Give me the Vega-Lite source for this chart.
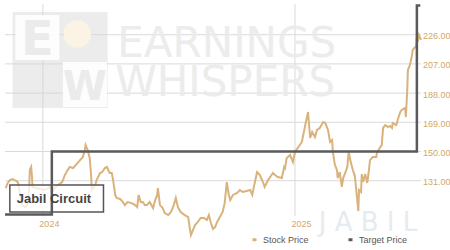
{
  "$schema": "https://vega.github.io/schema/vega-lite/v6.json",
  "width": 416,
  "height": 212,
  "autosize": {"type": "none"},
  "padding": {"left": 5, "top": 4, "right": 29, "bottom": 34},
  "background": "white",
  "config": {
    "view": {"stroke": null},
    "font": "Liberation Sans",
    "axis": {"domain": false, "ticks": false, "title": null, "grid": false, "labelColor": "#d3a866", "labelFontSize": 9, "labelFont": "Liberation Sans"},
    "axisX": {"labelOffset": 6, "labelPadding": 3, "labelFlush": false},
    "axisY": {"labelPadding": 1.5, "labelOffset": 1}
  },
  "datasets": {
    "stock": [
      {"date": "2023-11-08", "price": 126.2}, {"date": "2023-11-11", "price": 129.5}, {"date": "2023-11-14", "price": 131.4},
      {"date": "2023-11-18", "price": 132.1}, {"date": "2023-11-21", "price": 131.4}, {"date": "2023-11-24", "price": 130.8},
      {"date": "2023-11-26", "price": 129.5}, {"date": "2023-11-29", "price": 121.7}, {"date": "2023-12-02", "price": 115.1},
      {"date": "2023-12-06", "price": 113.8}, {"date": "2023-12-09", "price": 115.1}, {"date": "2023-12-12", "price": 124.9},
      {"date": "2023-12-13", "price": 137.9}, {"date": "2023-12-15", "price": 139.9}, {"date": "2023-12-16", "price": 134.7},
      {"date": "2023-12-17", "price": 126.9}, {"date": "2023-12-22", "price": 126.2}, {"date": "2023-12-28", "price": 125.6},
      {"date": "2024-01-02", "price": 124.9}, {"date": "2024-01-07", "price": 125.6}, {"date": "2024-01-11", "price": 126.9},
      {"date": "2024-01-14", "price": 123.6}, {"date": "2024-01-18", "price": 126.2}, {"date": "2024-01-23", "price": 128.2},
      {"date": "2024-01-29", "price": 130.1}, {"date": "2024-02-02", "price": 134.7}, {"date": "2024-02-06", "price": 137.9},
      {"date": "2024-02-09", "price": 139.9}, {"date": "2024-02-14", "price": 139.2}, {"date": "2024-02-19", "price": 141.8},
      {"date": "2024-02-24", "price": 144.4}, {"date": "2024-02-28", "price": 146.4}, {"date": "2024-03-02", "price": 151.0},
      {"date": "2024-03-03", "price": 154.2}, {"date": "2024-03-06", "price": 151.0}, {"date": "2024-03-09", "price": 145.7},
      {"date": "2024-03-11", "price": 134.7}, {"date": "2024-03-12", "price": 124.9}, {"date": "2024-03-17", "price": 128.2},
      {"date": "2024-03-19", "price": 131.4}, {"date": "2024-03-24", "price": 136.0}, {"date": "2024-03-27", "price": 136.6},
      {"date": "2024-03-31", "price": 139.2}, {"date": "2024-04-03", "price": 139.9}, {"date": "2024-04-07", "price": 136.0},
      {"date": "2024-04-10", "price": 136.0}, {"date": "2024-04-12", "price": 131.4}, {"date": "2024-04-15", "price": 121.7},
      {"date": "2024-04-17", "price": 119.7}, {"date": "2024-04-22", "price": 119.1}, {"date": "2024-04-25", "price": 117.8},
      {"date": "2024-04-29", "price": 115.1}, {"date": "2024-05-03", "price": 117.1}, {"date": "2024-05-09", "price": 116.4},
      {"date": "2024-05-14", "price": 115.1}, {"date": "2024-05-17", "price": 113.8}, {"date": "2024-05-19", "price": 121.7},
      {"date": "2024-05-22", "price": 117.1}, {"date": "2024-05-25", "price": 117.1}, {"date": "2024-05-28", "price": 115.1},
      {"date": "2024-05-31", "price": 115.1}, {"date": "2024-06-04", "price": 117.1}, {"date": "2024-06-09", "price": 113.2},
      {"date": "2024-06-12", "price": 118.4}, {"date": "2024-06-15", "price": 121.7}, {"date": "2024-06-16", "price": 126.2},
      {"date": "2024-06-19", "price": 115.1}, {"date": "2024-06-23", "price": 113.2}, {"date": "2024-06-26", "price": 109.9},
      {"date": "2024-07-01", "price": 108.6}, {"date": "2024-07-05", "price": 110.6}, {"date": "2024-07-09", "price": 115.1},
      {"date": "2024-07-12", "price": 119.7}, {"date": "2024-07-15", "price": 113.8}, {"date": "2024-07-19", "price": 110.6},
      {"date": "2024-07-25", "price": 108.6}, {"date": "2024-07-30", "price": 107.3}, {"date": "2024-08-01", "price": 100.8},
      {"date": "2024-08-03", "price": 95.6}, {"date": "2024-08-06", "price": 98.9}, {"date": "2024-08-09", "price": 102.1},
      {"date": "2024-08-13", "price": 104.1}, {"date": "2024-08-17", "price": 106.7}, {"date": "2024-08-22", "price": 106.7},
      {"date": "2024-08-26", "price": 105.4}, {"date": "2024-08-29", "price": 108.6}, {"date": "2024-09-01", "price": 103.4},
      {"date": "2024-09-04", "price": 99.5}, {"date": "2024-09-07", "price": 100.8}, {"date": "2024-09-10", "price": 104.1},
      {"date": "2024-09-14", "price": 107.3}, {"date": "2024-09-18", "price": 110.6}, {"date": "2024-09-21", "price": 116.4},
      {"date": "2024-09-24", "price": 130.1}, {"date": "2024-09-27", "price": 121.7}, {"date": "2024-09-29", "price": 118.4},
      {"date": "2024-10-03", "price": 121.7}, {"date": "2024-10-09", "price": 123.0}, {"date": "2024-10-13", "price": 124.9},
      {"date": "2024-10-17", "price": 123.6}, {"date": "2024-10-23", "price": 124.3}, {"date": "2024-10-28", "price": 124.9},
      {"date": "2024-10-31", "price": 121.7}, {"date": "2024-11-02", "price": 126.2}, {"date": "2024-11-07", "price": 136.6},
      {"date": "2024-11-11", "price": 134.7}, {"date": "2024-11-16", "price": 129.5}, {"date": "2024-11-18", "price": 126.9},
      {"date": "2024-11-23", "price": 131.4}, {"date": "2024-11-26", "price": 133.4}, {"date": "2024-11-30", "price": 136.0},
      {"date": "2024-12-03", "price": 134.7}, {"date": "2024-12-07", "price": 133.4}, {"date": "2024-12-13", "price": 132.7},
      {"date": "2024-12-16", "price": 139.2}, {"date": "2024-12-17", "price": 137.9}, {"date": "2024-12-20", "price": 145.7},
      {"date": "2024-12-25", "price": 147.7}, {"date": "2024-12-29", "price": 143.1}, {"date": "2025-01-01", "price": 149.7},
      {"date": "2025-01-05", "price": 152.3}, {"date": "2025-01-11", "price": 156.2}, {"date": "2025-01-16", "price": 167.2},
      {"date": "2025-01-20", "price": 175.7}, {"date": "2025-01-23", "price": 158.8}, {"date": "2025-01-26", "price": 162.7},
      {"date": "2025-01-30", "price": 159.4}, {"date": "2025-02-02", "price": 164.0}, {"date": "2025-02-06", "price": 165.3},
      {"date": "2025-02-11", "price": 169.2}, {"date": "2025-02-14", "price": 168.5}, {"date": "2025-02-18", "price": 164.0},
      {"date": "2025-02-21", "price": 156.2}, {"date": "2025-02-24", "price": 157.5}, {"date": "2025-02-25", "price": 149.7},
      {"date": "2025-02-28", "price": 141.2}, {"date": "2025-03-03", "price": 137.9}, {"date": "2025-03-04", "price": 132.7},
      {"date": "2025-03-07", "price": 136.6}, {"date": "2025-03-10", "price": 126.9}, {"date": "2025-03-12", "price": 132.7},
      {"date": "2025-03-15", "price": 136.0}, {"date": "2025-03-18", "price": 139.9}, {"date": "2025-03-20", "price": 149.7},
      {"date": "2025-03-23", "price": 143.1}, {"date": "2025-03-26", "price": 137.9}, {"date": "2025-03-29", "price": 134.0},
      {"date": "2025-03-31", "price": 124.9}, {"date": "2025-04-03", "price": 111.2}, {"date": "2025-04-04", "price": 124.9},
      {"date": "2025-04-07", "price": 123.6}, {"date": "2025-04-08", "price": 135.3}, {"date": "2025-04-10", "price": 130.1},
      {"date": "2025-04-13", "price": 135.3}, {"date": "2025-04-16", "price": 129.5}, {"date": "2025-04-17", "price": 132.7},
      {"date": "2025-04-20", "price": 144.4}, {"date": "2025-04-24", "price": 146.4}, {"date": "2025-04-29", "price": 146.4},
      {"date": "2025-04-30", "price": 149.0}, {"date": "2025-05-04", "price": 152.3}, {"date": "2025-05-07", "price": 154.2},
      {"date": "2025-05-09", "price": 165.3}, {"date": "2025-05-12", "price": 167.2}, {"date": "2025-05-16", "price": 165.9},
      {"date": "2025-05-19", "price": 166.6}, {"date": "2025-05-22", "price": 165.3}, {"date": "2025-05-23", "price": 168.5},
      {"date": "2025-05-28", "price": 167.2}, {"date": "2025-05-29", "price": 168.5}, {"date": "2025-05-31", "price": 171.8},
      {"date": "2025-06-03", "price": 175.7}, {"date": "2025-06-05", "price": 177.0}, {"date": "2025-06-10", "price": 178.3},
      {"date": "2025-06-11", "price": 172.4}, {"date": "2025-06-13", "price": 190.0}, {"date": "2025-06-14", "price": 203.0},
      {"date": "2025-06-17", "price": 206.3}, {"date": "2025-06-20", "price": 212.8}, {"date": "2025-06-21", "price": 216.1},
      {"date": "2025-06-26", "price": 218.7}, {"date": "2025-06-27", "price": 225.2}, {"date": "2025-06-29", "price": 223.2},
      {"date": "2025-06-30", "price": 225.8}, {"date": "2025-07-03", "price": 222.6}
    ],
    "target": [
      {"date": "2023-11-07", "price": 109},
      {"date": "2024-01-14", "price": 150},
      {"date": "2025-06-27", "price": 245},
      {"date": "2025-07-02", "price": 245}
    ],
    "yticks": [{"price": 131}, {"price": 150}, {"price": 169}, {"price": 188}, {"price": 207}, {"price": 226}],
    "xticks": [{"date": "2024-01-01T00:00:00"}, {"date": "2025-01-01T00:00:00"}]
  },
  "layer": [
    {
      "data": {"name": "yticks"},
      "mark": {"type": "rule", "color": "#d9d9d9", "strokeWidth": 1},
      "encoding": {
        "y": {"field": "price", "type": "quantitative", "title": null}
      }
    },
    {
      "data": {"name": "xticks"},
      "mark": {"type": "rule", "color": "#d9d9d9", "strokeWidth": 1},
      "encoding": {
        "x": {"field": "date", "type": "temporal", "title": null}
      }
    },
    {
      "data": {"values": [{}]},
      "mark": {"type": "rect", "fill": "#d4d4d4", "fillOpacity": 0.45},
      "encoding": {
        "x": {"datum": {"year": 2023, "month": 11, "date": 18}, "type": "temporal", "title": null},
        "x2": {"datum": {"year": 2024, "month": 4, "date": 4}},
        "y": {"datum": 240.8, "type": "quantitative", "title": null},
        "y2": {"datum": 178.3}
      }
    },
    {
      "data": {"values": [{}]},
      "mark": {"type": "rect", "fill": "#ffffff", "fillOpacity": 0.9},
      "encoding": {
        "x": {"datum": {"year": 2023, "month": 11, "date": 22}, "type": "temporal", "title": null},
        "x2": {"datum": {"year": 2024, "month": 1, "date": 25}},
        "y": {"datum": 238.8, "type": "quantitative", "title": null},
        "y2": {"datum": 209.5}
      }
    },
    {
      "data": {"values": [{}]},
      "mark": {"type": "rect", "fill": "#ffffff", "fillOpacity": 0.9},
      "encoding": {
        "x": {"datum": {"year": 2024, "month": 1, "date": 30}, "type": "temporal", "title": null},
        "x2": {"datum": {"year": 2024, "month": 4, "date": 3}},
        "y": {"datum": 208.2, "type": "quantitative", "title": null},
        "y2": {"datum": 178.9}
      }
    },
    {
      "data": {"values": [{}]},
      "mark": {"type": "point", "shape": "circle", "filled": true, "fill": "#fbf4e4", "opacity": 1, "size": 750},
      "encoding": {
        "x": {"datum": {"year": 2024, "month": 2, "date": 20}, "type": "temporal", "title": null},
        "y": {"datum": 226.5, "type": "quantitative", "title": null}
      }
    },
    {
      "data": {"values": [{}]},
      "mark": {"type": "text", "text": "E", "font": "DejaVu Sans", "fontWeight": "bold", "fontSize": 48, "color": "#ebebeb", "align": "center", "baseline": "alphabetic"},
      "encoding": {
        "x": {"datum": {"year": 2023, "month": 12, "date": 24}, "type": "temporal", "title": null},
        "y": {"datum": 212.8, "type": "quantitative", "title": null}
      }
    },
    {
      "data": {"values": [{}]},
      "mark": {"type": "text", "text": "W", "font": "DejaVu Sans", "fontWeight": "bold", "fontSize": 40, "color": "#ebebeb", "align": "center", "baseline": "alphabetic"},
      "encoding": {
        "x": {"datum": {"year": 2024, "month": 3, "date": 2}, "type": "temporal", "title": null},
        "y": {"datum": 183.5, "type": "quantitative", "title": null}
      }
    },
    {
      "data": {"values": [{}]},
      "mark": {"type": "text", "text": "EARNINGS", "font": "DejaVu Sans", "fontSize": 42, "color": "#ebebeb", "opacity": 0.9, "align": "left", "baseline": "alphabetic"},
      "encoding": {
        "x": {"datum": {"year": 2024, "month": 4, "date": 18}, "type": "temporal", "title": null},
        "y": {"datum": 211.5, "type": "quantitative", "title": null}
      }
    },
    {
      "data": {"values": [{}]},
      "mark": {"type": "text", "text": "WHISPERS", "font": "DejaVu Sans", "fontSize": 42, "color": "#ebebeb", "opacity": 0.9, "align": "left", "baseline": "alphabetic"},
      "encoding": {
        "x": {"datum": {"year": 2024, "month": 4, "date": 15}, "type": "temporal", "title": null},
        "y": {"datum": 186.1, "type": "quantitative", "title": null}
      }
    },
    {
      "data": {"values": [{}]},
      "mark": {"type": "text", "text": "J A B I L", "font": "DejaVu Sans", "fontSize": 26, "color": "#e6ebf0", "align": "center", "baseline": "alphabetic"},
      "encoding": {
        "x": {"datum": {"year": 2025, "month": 4, "date": 17}, "type": "temporal", "title": null},
        "y": {"datum": 98.0, "type": "quantitative", "title": null}
      }
    },
    {
      "data": {"name": "stock"},
      "mark": {"type": "line", "strokeWidth": 2, "interpolate": "linear"},
      "encoding": {
        "x": {
          "field": "date", "type": "temporal", "title": null,
          "scale": {"domain": [{"year": 2023, "month": 11, "date": 7}, {"year": 2025, "month": 7, "date": 3}]},
          "axis": {
            "values": [{"year": 2024, "month": 1, "date": 1}, {"year": 2025, "month": 1, "date": 1}],
            "format": "%Y", "title": null, "grid": false, "labelOffset": 6
          }
        },
        "y": {
          "field": "price", "type": "quantitative", "title": null,
          "scale": {"domain": [108, 246], "nice": false, "zero": false},
          "axis": {
            "orient": "right", "values": [131, 150, 169, 188, 207, 226], "format": ".2f", "title": null, "grid": false, "labelOffset": 1
          }
        },
        "color": {
          "datum": "Stock Price", "type": "nominal",
          "scale": {"domain": ["Stock Price", "Target Price"], "range": ["#d9b27c", "#5a5a5a"]},
          "legend": {
            "orient": "none", "legendX": 245, "legendY": 231, "direction": "horizontal", "title": null,
            "symbolType": "stroke", "symbolSize": 16, "symbolStrokeWidth": 3,
            "labelFontSize": 9, "labelColor": "#555555", "labelFont": "Liberation Sans",
            "columnPadding": 33, "labelOffset": 4, "padding": 0
          }
        }
      }
    },
    {
      "data": {"values": [{}]},
      "mark": {"type": "rect", "fill": "#ffffff", "fillOpacity": 0.75, "stroke": "#555555", "strokeWidth": 1.5},
      "encoding": {
        "x": {"datum": {"year": 2023, "month": 11, "date": 14}, "type": "temporal", "title": null},
        "x2": {"datum": {"year": 2024, "month": 3, "date": 29}},
        "y": {"datum": 128.2, "type": "quantitative", "title": null},
        "y2": {"datum": 110.6}
      }
    },
    {
      "data": {"name": "target"},
      "mark": {"type": "line", "strokeWidth": 2.5, "interpolate": "step-after"},
      "encoding": {
        "x": {"field": "date", "type": "temporal", "title": null},
        "y": {"field": "price", "type": "quantitative", "title": null},
        "color": {"datum": "Target Price", "type": "nominal"}
      }
    },
    {
      "data": {"values": [{}]},
      "mark": {"type": "text", "text": "Jabil Circuit", "font": "Liberation Sans", "fontWeight": "bold", "fontSize": 13, "color": "#444444", "align": "left", "baseline": "alphabetic"},
      "encoding": {
        "x": {"datum": {"year": 2023, "month": 11, "date": 24}, "type": "temporal", "title": null},
        "y": {"datum": 116.4, "type": "quantitative", "title": null}
      }
    }
  ]
}
